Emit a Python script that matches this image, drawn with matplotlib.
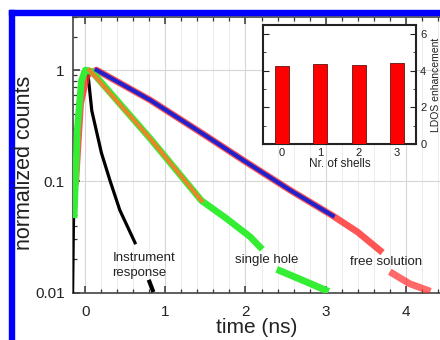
import matplotlib
matplotlib.use("Agg")
import matplotlib.pyplot as plt
from matplotlib.patches import Rectangle
from matplotlib.ticker import MultipleLocator, LogLocator, NullFormatter, FixedLocator

plt.rcParams['font.family'] = ['Liberation Sans', 'DejaVu Sans']

# ---- data ----
irf_t = [-0.16, -0.15, -0.12, -0.08, -0.03, 0.0, 0.03, 0.08, 0.2, 0.31, 0.43, 0.62]
irf_y = [0.01, 0.04, 0.25, 0.6, 0.95, 1.0, 0.95, 0.43, 0.18, 0.1, 0.055, 0.028]
irf_tail_t = [0.8, 0.84]
irf_tail_y = [0.0125, 0.0105]

hole_t = [-0.14, -0.1, -0.05, 0.0, 0.08, 0.81, 1.45, 1.75, 2.06, 2.18]
hole_y = [0.05, 0.3, 0.8, 1.0, 0.97, 0.242, 0.067, 0.047, 0.0316, 0.0257]
hole_tail_t = [2.43, 2.7, 3.0]
hole_tail_y = [0.0157, 0.013, 0.0105]
hole_fit_t = [0.05, 0.81, 1.45]
hole_fit_y = [1.0, 0.242, 0.067]

free_t = [-0.12, -0.06, 0.02, 0.14, 0.81, 1.5, 2.0, 2.56, 3.09, 3.4, 3.68]
free_y = [0.1, 0.5, 0.9, 1.0, 0.537, 0.258, 0.15, 0.083, 0.049, 0.035, 0.0239]
free_tail_t = [3.84, 4.05, 4.27]
free_tail_y = [0.0148, 0.012, 0.0105]
free_fit_t = [0.14, 0.81, 1.5, 2.0, 2.56, 3.09]
free_fit_y = [1.0, 0.537, 0.258, 0.15, 0.083, 0.049]

shells = [0, 1, 2, 3]
ldos = [4.25, 4.35, 4.3, 4.4]

x_ticks = [0, 1, 2, 3, 4]
y_ticks = [0.01, 0.1, 1]
y_ticklabels = ['0.01', '0.1', '1']

W, H = 440, 340
fig = plt.figure(figsize=(4.4, 3.4), dpi=100)

# blue frame
fig.patches.append(Rectangle((9 / W, 0), 5 / W, (H - 10) / H, transform=fig.transFigure,
                             color='#0000ff', zorder=0))
fig.patches.append(Rectangle((9 / W, (H - 15) / H), 1 - 9 / W, 5 / H, transform=fig.transFigure,
                             color='#0000ff', zorder=0))

ax = fig.add_axes([73 / W, (H - 292.5) / H, (440 - 73) / W, (292.5 - 17) / H])
ax.set_yscale('log')
ax.set_xlim(-0.155, 4.43)
ax.set_ylim(0.01, 3.0)

ax.plot(irf_t, irf_y, color='black', lw=2.3, zorder=3)
ax.plot(irf_tail_t, irf_tail_y, color='black', lw=3, zorder=3)
ax.plot(free_t, free_y, color='#ff2a2a', lw=4.8, alpha=0.8, zorder=4)
ax.plot(free_tail_t, free_tail_y, color='#ff2a2a', lw=5, alpha=0.7, zorder=4)
ax.plot(hole_t, hole_y, color='#33ee33', lw=4.8, zorder=5)
ax.plot(hole_tail_t, hole_tail_y, color='#33ee33', lw=5, zorder=5)
ax.plot(free_fit_t, free_fit_y, color='#2222cc', lw=3.0, zorder=6)
ax.plot(hole_fit_t, hole_fit_y, color='#e8862a', lw=3.0, zorder=6)

ax.text(0.34, 0.0175, 'Instrument\nresponse', fontsize=9.5, ha='left', va='center',
        color='#222222', linespacing=1.25)
ax.text(2.26, 0.0198, 'single hole', fontsize=9.5, ha='center', va='center', color='#222222')
ax.text(3.76, 0.0189, 'free solution', fontsize=9.5, ha='center', va='center', color='#222222')

ax.set_xticks(x_ticks)
ax.xaxis.set_minor_locator(MultipleLocator(0.2))
ax.yaxis.set_major_locator(FixedLocator(y_ticks))
ax.set_yticklabels(y_ticklabels)
ax.yaxis.set_minor_locator(LogLocator(base=10, subs=range(2, 10)))
ax.yaxis.set_minor_formatter(NullFormatter())
ax.tick_params(which='both', direction='in', top=True, right=False, colors='#333333',
               labelcolor='#222222', labelsize=11)
ax.tick_params(which='major', length=5, width=1.1)
ax.tick_params(which='minor', length=3, width=0.9)
ax.tick_params(axis='x', which='major', pad=9)
ax.tick_params(axis='y', which='major', pad=6)
ax.grid(True, which='major', color='#d6d6d6', lw=0.8)
ax.grid(True, which='minor', axis='x', color='#ececec', lw=0.7)
for s in ['left', 'bottom', 'top']:
    ax.spines[s].set_color('#444444')
    ax.spines[s].set_linewidth(1.2)
ax.spines['right'].set_visible(False)
ax.set_xlabel('time (ns)', fontsize=15, labelpad=-1, color='#222222')
fig.text(25 / W, 1 - 163 / H, 'normalized counts', rotation=90, fontsize=15.5,
         ha='center', va='center', color='#222222')

# inset
ins = fig.add_axes([263 / W, (H - 144) / H, 153 / W, 119 / H])
ins.bar(shells, ldos, width=0.36, color='#ff0000', edgecolor='#661111', linewidth=0.6, zorder=3)
ins.set_xlim(-0.5, 3.5)
ins.set_ylim(0, 6.5)
ins.set_xticks(shells)
ins.set_yticks([0, 2, 4, 6])
ins.yaxis.set_minor_locator(MultipleLocator(1))
ins.yaxis.tick_right()
ins.yaxis.set_label_position('right')
ins.tick_params(axis='y', which='both', direction='in', left=True, right=True,
                labelsize=8, colors='#222222', pad=3)
ins.tick_params(axis='y', which='major', length=4)
ins.tick_params(axis='y', which='minor', length=2.5)
ins.tick_params(axis='x', length=0, labelsize=8, pad=3, colors='#222222')
for s in ins.spines.values():
    s.set_linewidth(1.5)
    s.set_color('#222222')
ins.set_xlabel('Nr. of shells', fontsize=8.5, labelpad=0, color='#222222')
ins.set_ylabel('LDOS enhancement', fontsize=7.5, labelpad=3, color='#222222')
ins.patch.set_facecolor('white')
ins.set_zorder(10)

fig.savefig('out.png', dpi=100)
